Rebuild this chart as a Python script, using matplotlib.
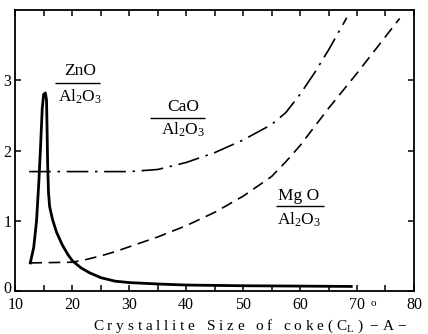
import matplotlib
matplotlib.use("Agg")
import matplotlib.pyplot as plt
import matplotlib.transforms as mtransforms
from matplotlib.ticker import MultipleLocator

plt.rcParams["font.family"] = ["Liberation Serif", "DejaVu Serif"]
plt.rcParams["mathtext.fontset"] = "custom"
plt.rcParams["mathtext.rm"] = "Liberation Serif"
plt.rcParams["mathtext.it"] = "Liberation Serif:italic"
plt.rcParams["mathtext.bf"] = "Liberation Serif:bold"

# ZnO / Al2O3 ratio versus coke crystallite size
zno_x = [12.6, 13.2, 13.7, 14.1, 14.4, 14.7, 14.95, 15.25, 15.45, 15.55, 15.65,
         15.8, 16.0, 16.5, 17.2, 18.2, 19.2, 20.0, 21.5, 23.0, 25.0, 27.5,
         30.0, 35.0, 40.0, 50.0, 60.0, 69.0]
zno_y = [0.40, 0.62, 1.00, 1.55, 2.05, 2.60, 2.80, 2.82, 2.72, 2.30, 1.80,
         1.40, 1.20, 1.02, 0.84, 0.66, 0.52, 0.43, 0.33, 0.26, 0.19, 0.14,
         0.12, 0.10, 0.085, 0.075, 0.07, 0.065]

# CaO / Al2O3 ratio
cao_x = [12.4, 20.0, 30.0, 35.0, 40.0, 45.0, 50.0, 55.0, 57.5, 60.0, 62.5, 65.0, 68.2]
cao_y = [1.70, 1.70, 1.70, 1.73, 1.83, 1.97, 2.15, 2.37, 2.54, 2.80, 3.10, 3.43, 3.89]

# MgO / Al2O3 ratio
mgo_x = [12.6, 20.0, 22.5, 25.0, 27.5, 30.0, 35.0, 40.0, 45.0, 50.0, 55.0,
         57.5, 60.0, 65.0, 70.0, 75.0, 77.5]
mgo_y = [0.40, 0.41, 0.45, 0.50, 0.56, 0.63, 0.77, 0.93, 1.12, 1.35, 1.63,
         1.84, 2.07, 2.60, 3.10, 3.62, 3.88]

x_ticks = [10, 20, 30, 40, 50, 60, 70, 80]
y_ticks = [0, 1, 2, 3]

fig = plt.figure(figsize=(4.28, 3.34), dpi=100)
ax = fig.add_axes([0.0362, 0.1287, 0.9308, 0.8413])

ax.plot(zno_x, zno_y, color="black", lw=2.0, solid_joinstyle="round")
ax.plot(cao_x, cao_y, color="black", lw=1.2, dashes=(13, 4, 1.5, 4))
ax.plot(mgo_x, mgo_y, color="black", lw=1.2, dashes=(7, 4))

ax.set_xlim(10, 80)
ax.set_ylim(0, 4)
ax.set_xticks(x_ticks)
ax.set_yticks(y_ticks)
ax.xaxis.set_minor_locator(MultipleLocator(5))
ax.tick_params(which="both", direction="in", top=True, right=True,
               width=1.1, labelsize=11.5)
ax.tick_params(which="major", length=4.5)
ax.tick_params(axis="x", which="major", pad=4)
ax.tick_params(axis="y", which="major", pad=3)
ax.tick_params(which="minor", length=4.5)
ax.tick_params(axis="y", which="minor", left=False, right=False)
for s in ax.spines.values():
    s.set_linewidth(1.3)

# lift the y-axis "0" a little so it clears the "10" below it
fig.canvas.draw()
zero = ax.get_yticklabels()[0]
zero.set_transform(zero.get_transform() +
                   mtransforms.ScaledTranslation(0, 4 / 100, fig.dpi_scale_trans))


def ratio_label(xc, y_top, y_bar, y_bot, x0, x1, top_text):
    ax.text(xc, y_top, top_text, ha="center", va="center", fontsize=12.5)
    ax.plot([x0, x1], [y_bar, y_bar], color="black", lw=1.0,
            solid_capstyle="butt")
    ax.text(xc, y_bot, r"Al$_\mathregular{2}$O$_\mathregular{3}$",
            ha="center", va="center", fontsize=12.5)


ratio_label(21.3, 3.13, 2.96, 2.76, 16.9, 24.8, "ZnO")
ratio_label(39.4, 2.62, 2.47, 2.29, 33.6, 43.3, "CaO")
ratio_label(59.8, 1.35, 1.21, 1.02, 55.8, 64.2, "Mg O")

label = "C r y s t a l l i t e   S i z e   o f   c o k e ( C$_\\mathregular{L}$ )  − A −"
fig.text(250 / 428, 1 - 326 / 334, label, ha="center", va="center", fontsize=11)
fig.text(373 / 428, 1 - 304 / 334, "o", ha="center", va="center", fontsize=8)

fig.savefig("out.png", dpi=100)
